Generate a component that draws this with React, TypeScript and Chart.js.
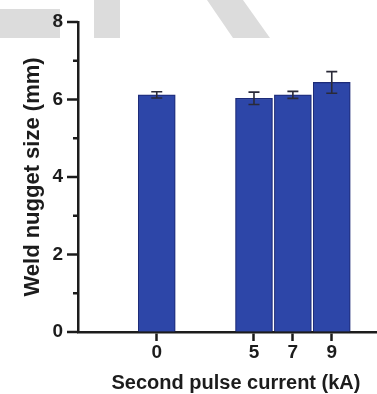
import React, { useEffect, useRef } from "react";
import { Chart, registerables } from "chart.js";

Chart.register(...registerables);

// Second pulse current (kA) and measured weld nugget size (mm) with standard deviation
const pulseCurrents = [0, 5, 7, 9];
const nuggetSizes = [6.12, 6.03, 6.12, 6.44];
const nuggetErrors = [0.08, 0.16, 0.09, 0.28];
const xTickValues = [0, 5, 7, 9];
const yMajorTicks = [0, 2, 4, 6, 8];

const INK = "#1c1c1c";
const FONT = "'Liberation Sans', Arial, Helvetica, sans-serif";

// Light grey backdrop shapes behind the plot
const backdropPlugin = {
  id: "backdrop",
  beforeDraw(chart: any) {
    const ctx = chart.ctx;
    ctx.save();
    ctx.fillStyle = "#dcdcdc";
    ctx.fillRect(0, 9, 60, 29);
    ctx.fillRect(94, 0, 26, 38);
    ctx.beginPath();
    ctx.moveTo(207, 0);
    ctx.lineTo(243, 0);
    ctx.lineTo(270, 38);
    ctx.lineTo(233, 38);
    ctx.closePath();
    ctx.fill();
    ctx.restore();
  },
};

// Major (labelled) and minor tick marks on the y axis
const yTickPlugin = {
  id: "yTicks",
  afterDraw(chart: any) {
    const y = chart.scales.y;
    const ctx = chart.ctx;
    const x0 = chart.chartArea.left;
    ctx.save();
    ctx.strokeStyle = INK;
    ctx.lineWidth = 2.5;
    for (let v = 0; v <= 8; v++) {
      const len = yMajorTicks.includes(v) ? 11 : 5;
      const py = y.getPixelForValue(v);
      ctx.beginPath();
      ctx.moveTo(x0, py);
      ctx.lineTo(x0 - len, py);
      ctx.stroke();
    }
    ctx.restore();
  },
};

// Standard-deviation whiskers on each bar
const errorBarPlugin = {
  id: "errorBars",
  afterDatasetsDraw(chart: any) {
    const xs = chart.scales.x;
    const ys = chart.scales.y;
    const ctx = chart.ctx;
    ctx.save();
    ctx.strokeStyle = "#2a2a38";
    ctx.lineWidth = 1.6;
    const cap = 5.5;
    pulseCurrents.forEach((c, i) => {
      const px = xs.getPixelForValue(c);
      const top = ys.getPixelForValue(nuggetSizes[i] + nuggetErrors[i]);
      const bot = ys.getPixelForValue(nuggetSizes[i] - nuggetErrors[i]);
      ctx.beginPath();
      ctx.moveTo(px, top);
      ctx.lineTo(px, bot);
      ctx.moveTo(px - cap, top);
      ctx.lineTo(px + cap, top);
      ctx.moveTo(px - cap, bot);
      ctx.lineTo(px + cap, bot);
      ctx.stroke();
    });
    ctx.restore();
  },
};

export default function App() {
  const canvasRef = useRef<HTMLCanvasElement | null>(null);

  useEffect(() => {
    if (!canvasRef.current) return;
    const chart = new Chart(canvasRef.current, {
      type: "bar",
      data: {
        datasets: [
          {
            data: pulseCurrents.map((c, i) => ({ x: c, y: nuggetSizes[i] })),
            backgroundColor: "#2d46a8",
            borderColor: "#1d2b78",
            borderWidth: 1.2,
            barThickness: 37,
          },
        ],
      },
      options: {
        responsive: false,
        animation: false,
        layout: { padding: { top: 22, left: 0, right: 0, bottom: 0 } },
        plugins: {
          legend: { display: false },
          tooltip: { enabled: false },
        },
        scales: {
          x: {
            type: "linear",
            min: -4.05,
            max: 12.2,
            offset: false,
            afterBuildTicks: (scale: any) => {
              scale.ticks = xTickValues.map((v) => ({ value: v }));
            },
            afterFit: (scale: any) => {
              scale.height = 62;
            },
            grid: {
              display: true,
              offset: false,
              drawOnChartArea: false,
              drawTicks: true,
              tickLength: 9,
              tickWidth: 2.5,
              tickColor: INK,
            },
            border: { display: true, color: INK, width: 2.5 },
            ticks: {
              autoSkip: false,
              maxRotation: 0,
              padding: 1,
              color: INK,
              font: { family: FONT, size: 19, weight: "bold", lineHeight: 1.1 },
              callback: (v: any) => String(v),
            },
            title: {
              display: true,
              text: "Second pulse current (kA)",
              color: INK,
              padding: { top: 0, bottom: 0 },
              font: { family: FONT, size: 20, weight: "bold", lineHeight: 1.1 },
            },
          },
          y: {
            min: 0,
            max: 8,
            afterFit: (scale: any) => {
              scale.width = 78;
            },
            grid: {
              display: true,
              drawOnChartArea: false,
              drawTicks: true,
              tickLength: 11,
              tickColor: "transparent",
            },
            border: { display: true, color: INK, width: 2.5 },
            ticks: {
              stepSize: 1,
              padding: 4,
              color: INK,
              font: { family: FONT, size: 19, weight: "bold" },
              callback: (v: any) => (yMajorTicks.includes(Number(v)) ? String(v) : ""),
            },
            title: {
              display: true,
              text: "Weld nugget size (mm)",
              color: INK,
              padding: { top: 20, bottom: 0 },
              font: { family: FONT, size: 22, weight: "bold", lineHeight: 1.2 },
            },
          },
        },
      },
      plugins: [backdropPlugin, yTickPlugin, errorBarPlugin],
    } as any);
    return () => chart.destroy();
  }, []);

  return (
    <div
      style={{
        position: "absolute",
        left: 0,
        top: 0,
        width: 377,
        height: 394,
        overflow: "hidden",
        background: "#ffffff",
      }}
    >
      <canvas ref={canvasRef} width={394} height={394} style={{ display: "block" }} />
    </div>
  );
}
